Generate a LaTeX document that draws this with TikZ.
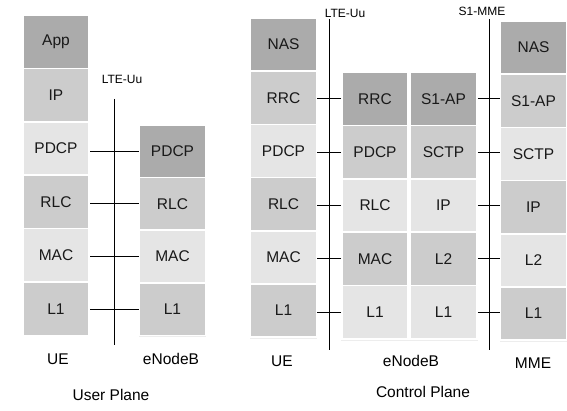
\documentclass[tikz,border=0pt]{standalone}
\usepackage{fontspec}
\setmainfont{Liberation Sans}
\begin{document}
\begin{tikzpicture}[x=1pt,y=-1pt,
  lay/.style={draw=white,line width=1.6pt,minimum height=53.4pt,inner sep=0pt,font=\fontsize{15.5}{17}\selectfont,text=black!90},
  dk/.style={lay,fill=black!33},
  md/.style={lay,fill=black!20},
  lt/.style={lay,fill=black!10},
  w66/.style={minimum width=66pt},
  grp/.style={draw=black!7,line width=0.8pt},
  iface/.style={line width=0.9pt},
  conn/.style={line width=0.9pt},
  small/.style={font=\fontsize{12}{14}\selectfont},
  caplabel/.style={font=\fontsize{15.5}{17}\selectfont}]
\useasboundingbox (0,0) rectangle (567,411);
\fill[white] (0,0) rectangle (567,411);

% ---------- User plane ----------
\draw[grp] (22.5,14.5) rectangle (89.5,335);
\node[dk,w66] (uApp)  at (56,41.7)  {App};
\node[md,w66] (uIP)   at (56,95.1)  {IP};
\node[lt,w66] (uPDCP) at (56,148.5) {PDCP};
\node[md,w66] (uRLC)  at (56,201.9) {RLC};
\node[lt,w66] (uMAC)  at (56,255.3) {MAC};
\node[md,w66] (uL1)   at (56,308.7) {L1};

\draw[grp] (139.5,124.5) rectangle (205.5,336);
\node[dk,w66,minimum height=52.6pt] (ePDCP) at (172.5,151.3) {PDCP};
\node[md,w66,minimum height=52.6pt] (eRLC)  at (172.5,203.9) {RLC};
\node[lt,w66,minimum height=52.6pt] (eMAC)  at (172.5,256.5) {MAC};
\node[md,w66,minimum height=52.6pt] (eL1)   at (172.5,309.1) {L1};

\coordinate (uuTop) at (114,99);
\coordinate (uuBot) at (114,345);
\draw[iface] (uuTop) -- (uuBot);
\node[small] (uuLab) at (122,79) {LTE-Uu};

\draw[conn] (ePDCP.west) -- (ePDCP.west -| uPDCP.east);
\draw[conn] (eRLC.west) -- (eRLC.west -| uRLC.east);
\draw[conn] (eMAC.west) -- (eMAC.west -| uMAC.east);
\draw[conn] (eL1.west) -- (eL1.west -| uL1.east);

\node[caplabel] (upUE)  at (58,359)  {UE};
\node[caplabel] (upENB) at (171,359) {eNodeB};
\node[caplabel] (upTitle) at (111,395) {User Plane};

% ---------- Control plane ----------
\draw[grp] (250.5,17.5) rectangle (316.5,338);
\node[dk,w66,minimum height=53.2pt] (cNAS)  at (283.5,44.6)  {NAS};
\node[md,w66,minimum height=53.2pt] (cRRC)  at (283.5,97.8)  {RRC};
\node[lt,w66,minimum height=53.2pt] (cPDCP) at (283.5,151)   {PDCP};
\node[md,w66,minimum height=53.2pt] (cRLC)  at (283.5,204.2) {RLC};
\node[lt,w66,minimum height=53.2pt] (cMAC)  at (283.5,257.4) {MAC};
\node[md,w66,minimum height=53.2pt] (cL1)   at (283.5,310.6) {L1};

\draw[grp] (341.5,71.5) rectangle (477.5,340);
\node[dk,w66] (bRRC)  at (375,98.7)  {RRC};
\node[md,w66] (bPDCP) at (375,152.1) {PDCP};
\node[lt,w66] (bRLC)  at (375,205.5) {RLC};
\node[md,w66] (bMAC)  at (375,258.9) {MAC};
\node[lt,w66] (bL1)   at (375,312.3) {L1};
\node[dk,minimum width=67pt] (bS1)   at (443.5,98.7)  {S1-AP};
\node[md,minimum width=67pt] (bSCTP) at (443.5,152.1) {SCTP};
\node[lt,minimum width=67pt] (bIP)   at (443.5,205.5) {IP};
\node[md,minimum width=67pt] (bL2)   at (443.5,258.9) {L2};
\node[lt,minimum width=67pt] (bL1b)  at (443.5,312.3) {L1};

\draw[grp] (500.5,20.5) rectangle (566.5,341);
\node[dk,w66,minimum height=53.2pt] (mNAS)  at (533.5,47.6)  {NAS};
\node[md,w66,minimum height=53.2pt] (mS1)   at (533.5,100.8) {S1-AP};
\node[lt,w66,minimum height=53.2pt] (mSCTP) at (533.5,154)   {SCTP};
\node[md,w66,minimum height=53.2pt] (mIP)   at (533.5,207.2) {IP};
\node[lt,w66,minimum height=53.2pt] (mL2)   at (533.5,260.4) {L2};
\node[md,w66,minimum height=53.2pt] (mL1)   at (533.5,313.6) {L1};

\coordinate (luTop) at (329,19);
\coordinate (luBot) at (329,350);
\draw[iface] (luTop) -- (luBot);
\node[small] (luLab) at (345,13) {LTE-Uu};

\coordinate (smTop) at (489,19);
\coordinate (smBot) at (489,350);
\draw[iface] (smTop) -- (smBot);
\node[small] (smLab) at (482,11) {S1-MME};

\draw[conn] (bRRC.west)  -- (bRRC.west -| cRRC.east);
\draw[conn] (bPDCP.west) -- (bPDCP.west -| cPDCP.east);
\draw[conn] (bRLC.west)  -- (bRLC.west -| cRLC.east);
\draw[conn] (bMAC.west)  -- (bMAC.west -| cMAC.east);
\draw[conn] (bL1.west)   -- (bL1.west -| cL1.east);

\draw[conn] (bS1.east)   -- (bS1.east -| mS1.west);
\draw[conn] (bSCTP.east) -- (bSCTP.east -| mSCTP.west);
\draw[conn] (bIP.east)   -- (bIP.east -| mIP.west);
\draw[conn] (bL2.east)   -- (bL2.east -| mL2.west);
\draw[conn] (bL1b.east)  -- (bL1b.east -| mL1.west);

\node[caplabel] (cpUE)  at (282,361) {UE};
\node[caplabel] (cpENB) at (411,361) {eNodeB};
\node[caplabel] (cpMME) at (533,363) {MME};
\node[caplabel] (cpTitle) at (423,392) {Control Plane};
\end{tikzpicture}
\end{document}
